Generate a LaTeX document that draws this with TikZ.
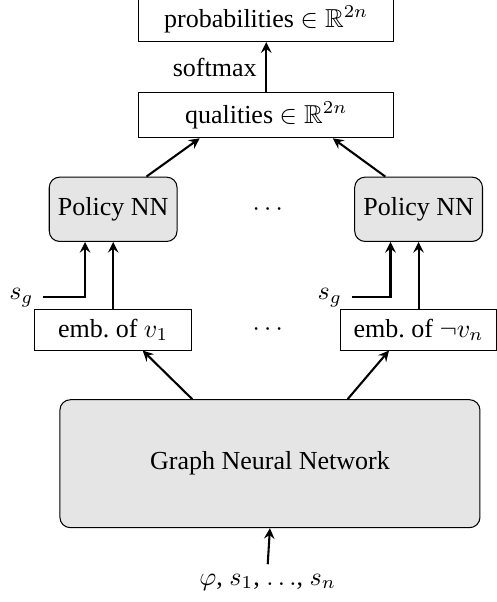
\documentclass[tikz,border=0pt]{standalone}
\usepackage{amssymb}
\usepackage{fontspec}
\setmainfont{Liberation Serif}
\tikzset{
  plainbox/.style={draw,thin,inner sep=3.5pt},
  nnbox/.style={draw,thin,fill=gray!20,rounded corners=4pt}
}
\begin{document}
\begin{tikzpicture}[thick,>=stealth,x=1.0cm,y=1.0cm]
	\useasboundingbox (0,0) rectangle (6.71,8.14);
	% output side
	\node[plainbox,minimum width=3.45cm] (prob) at (3.6,7.88) {probabilities $\in\mathbb{R}^{2n}$};
	\node[plainbox,minimum width=3.45cm] (qual) at (3.6,6.58) {qualities $\in\mathbb{R}^{2n}$};
	\draw[->] (qual) -- node[left]{softmax} (prob);
	% policy networks
	\node[nnbox,minimum width=1.7cm,minimum height=0.87cm] (pol1) at (1.53,5.31) {Policy NN};
	\node[nnbox,minimum width=1.7cm,minimum height=0.87cm] (pol2) at (5.66,5.31) {Policy NN};
	\node (dotsa) at (3.62,5.31) {$\cdots$};
	\draw[->] ([xshift=0.45cm]pol1.north) -- ([xshift=-0.9cm]qual.south);
	\draw[->] ([xshift=-0.45cm]pol2.north) -- ([xshift=0.9cm]qual.south);
	% embeddings
	\node[plainbox,minimum width=2.12cm] (emb1) at (1.53,3.68) {emb.\ of $v_1$};
	\node[plainbox,minimum width=2.12cm] (emb2) at (5.66,3.68) {emb.\ of $\neg v_n$};
	\node (dotsb) at (3.62,3.68) {$\cdots$};
	\node (sg1) at (0.29,4.12) {$s_g$};
	\node (sg2) at (4.46,4.12) {$s_g$};
	\draw[->] (sg1.east) -| ([xshift=-0.38cm]pol1.south);
	\draw[->] (sg2.east) -| ([xshift=-0.38cm]pol2.south);
	\draw[->] (emb1) -- (pol1);
	\draw[->] (emb2) -- (pol2);
	% graph network
	\node[nnbox,minimum width=5.68cm,minimum height=1.73cm] (gnn) at (3.65,1.87) {Graph Neural Network};
	\node (input) at (3.62,0.27) {$\varphi$, $s_1$, $\ldots$, $s_n$};
	\draw[->] ([xshift=-1.05cm]gnn.north) -- ([xshift=0.4cm]emb1.south);
	\draw[->] ([xshift=1.05cm]gnn.north) -- ([xshift=-0.4cm]emb2.south);
	\draw[->] (input.north) -- (gnn.south);
\end{tikzpicture}
\end{document}
